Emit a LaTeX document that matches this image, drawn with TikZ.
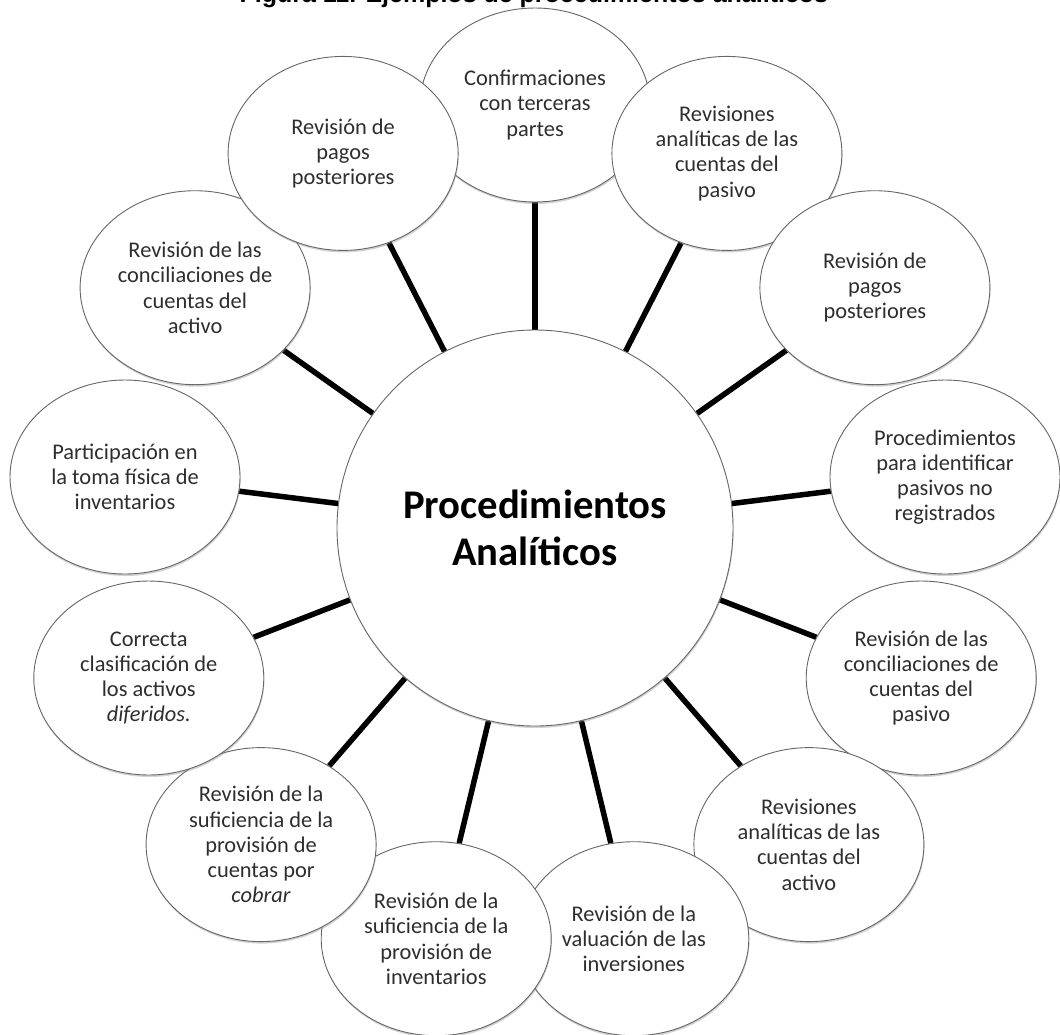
\documentclass[tikz,border=0pt]{standalone}
\usepackage{fontspec}
\setmainfont{Carlito}
\newfontfamily\titlefont{Liberation Sans}
\usetikzlibrary{shapes.geometric,shadows,backgrounds}

\begin{document}
\begin{tikzpicture}[x=1pt,y=1pt,
  satellite/.style={ellipse, draw=gray!80!black, line width=0.9pt, fill=white,
    minimum width=230pt, minimum height=194pt, inner sep=0pt, align=center,
    font=\fontsize{22.4}{25.2}\selectfont, text=black!82,
    drop shadow={shadow xshift=0.6pt, shadow yshift=-2pt, opacity=0.35, fill=gray}},
  hub/.style={circle, draw=gray!80!black, line width=0.9pt, fill=white,
    minimum size=396pt, inner sep=0pt, align=center, text=black,
    font=\fontsize{40.7}{46.7}\selectfont\bfseries,
    drop shadow={shadow xshift=0.6pt, shadow yshift=-2pt, opacity=0.35, fill=gray}},
  spoke/.style={line width=5.5pt, black},
  heading/.style={anchor=base west, text=black,
    font=\titlefont\bfseries\fontsize{25}{30}\selectfont}
]
\useasboundingbox (0,0) rectangle (1060,-1034);

% caption, running off the top edge
\node[heading] (title) at (236,-2) {Figura 11. Ejemplos de procedimientos analíticos};

% central circle
\node[hub] (hub) at (535,-528) {Procedimientos\\Analíticos};

% thirteen satellites, clockwise from the top
\node[satellite] (s0)  at (535.0,-105.0) {Confirmaciones\\con terceras\\partes};
\node[satellite] (s1)  at (726.9,-153.4) {Revisiones\\analíticas de las\\cuentas del\\pasivo};
\node[satellite] (s2)  at (874.9,-287.7) {Revisión de\\pagos\\posteriores};
\node[satellite] (s3)  at (945.0,-477.0) {Procedimientos\\para identificar\\pasivos no\\registrados};
\node[satellite] (s4)  at (921.2,-678.0) {Revisión de las\\conciliaciones de\\cuentas del\\pasivo};
\node[satellite] (s5)  at (808.9,-844.6) {Revisiones\\analíticas de las\\cuentas del\\activo};
\node[satellite] (s6)  at (633.8,-938.7) {Revisión de la\\valuación de las\\inversiones};
\node[satellite] (s7)  at (436.2,-938.7) {Revisión de la\\suficiencia de la\\provisión de\\inventarios};
\node[satellite] (s8)  at (261.1,-844.6) {Revisión de la\\suficiencia de la\\provisión de\\cuentas por\\\textit{cobrar}};
\node[satellite] (s9)  at (148.8,-678.0) {Correcta\\clasificación de\\los activos\\\textit{diferidos.}};
\node[satellite] (s10) at (125.0,-477.0) {Participación en\\la toma física de\\inventarios};
\node[satellite] (s11) at (195.1,-287.7) {Revisión de las\\conciliaciones de\\cuentas del\\activo};
\node[satellite] (s12) at (343.1,-153.4) {Revisión de\\pagos\\posteriores};

% white page and radial spokes behind everything
\begin{scope}[on background layer]
  \fill[white] (0,0) rectangle (1060,-1034);
  \foreach \k in {0,...,12}
    \draw[spoke] (hub) -- (s\k);
\end{scope}
\end{tikzpicture}
\end{document}
